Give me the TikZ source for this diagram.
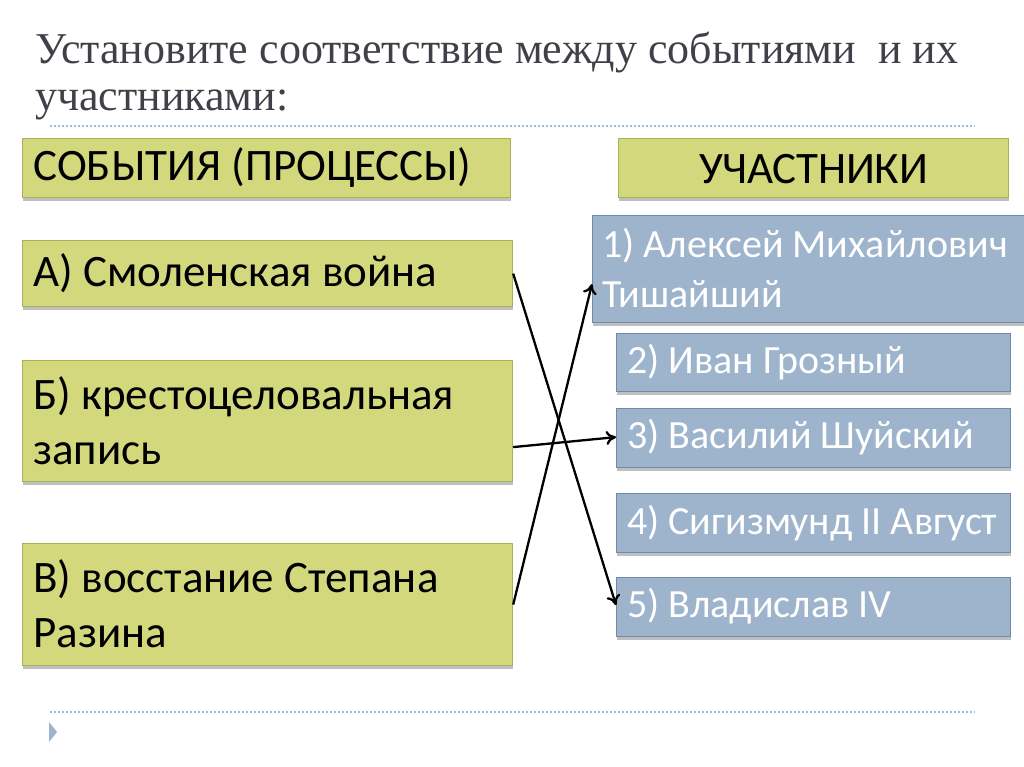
\documentclass[tikz,border=0pt]{standalone}
\usepackage{fontspec}
\setmainfont{Carlito}
\newfontfamily\titlefont{Liberation Serif}
\usetikzlibrary{shadows,arrows.meta}
\definecolor{olivefill}{RGB}{211,216,124}
\definecolor{olivedraw}{RGB}{170,176,88}
\definecolor{bluefill}{RGB}{157,180,204}
\definecolor{bluedraw}{RGB}{112,138,168}
\definecolor{titlegray}{RGB}{64,64,72}
\definecolor{dotblue}{RGB}{160,190,210}
\tikzset{
  olivebox/.style={draw=olivedraw, fill=olivefill, line width=1.2pt, anchor=north west, inner sep=0pt,
    drop shadow={shadow xshift=0pt, shadow yshift=-3pt, opacity=0.25, fill=black}},
  bluebox/.style={draw=bluedraw, fill=bluefill, line width=1.2pt, anchor=north west, inner sep=0pt,
    drop shadow={shadow xshift=0pt, shadow yshift=-3pt, opacity=0.25, fill=black}},
  boxtext/.style={anchor=west, inner sep=0pt, align=left, font=\fontsize{45}{55}\selectfont},
  whitetext/.style={anchor=west, inner sep=0pt, align=left, text=white, font=\fontsize{40}{50}\selectfont},
  titletext/.style={anchor=base west, inner sep=0pt, text=titlegray, font=\titlefont\fontsize{44}{48}\selectfont},
  conn/.style={line width=2.3pt, -{To[length=10pt, width=14pt, line width=2.3pt]}},
  dotline/.style={dotblue, line width=1.2pt, dash pattern=on 2pt off 2pt},
}
\begin{document}
\begin{tikzpicture}[x=1pt, y=-1pt]
\useasboundingbox (0,0) rectangle (1024,767);
\fill[white] (0,0) rectangle (1024,767);
% title
\node[titletext] (title1) at (35,64) {Установите соответствие между событиями~ и их};
\node[titletext] (title2) at (35,111) {участниками:};
\draw[dotline] (50,126) -- (975,126);
\draw[dotline] (50,712) -- (975,712);
% headers
\node[olivebox, minimum width=488, minimum height=59] (hl) at (22,138) {};
\node[boxtext] (hlt) at (33,168) {СОБЫТИЯ (ПРОЦЕССЫ)};
\node[olivebox, minimum width=390, minimum height=59] (hr) at (618,138) {};
\node[boxtext, anchor=center] (hrt) at ([yshift=-1pt]hr.center) {УЧАСТНИКИ};
% left boxes
\node[olivebox, minimum width=490, minimum height=66] (a) at (22,240) {};
\node[boxtext] (at) at (33,273) {А) Смоленская война};
\node[olivebox, minimum width=490, minimum height=121] (b) at (22,360) {};
\node[boxtext] (bt) at (33,421) {Б) крестоцеловальная\\запись};
\node[olivebox, minimum width=490, minimum height=122] (c) at (22,543) {};
\node[boxtext] (ct) at (33,604) {В) восстание Степана\\Разина};
% right boxes
\node[bluebox, minimum width=440, minimum height=107] (r1) at (592,215) {};
\node[whitetext] (r1t) at (602,268) {1) Алексей Михайлович\\Тишайший};
\node[bluebox, minimum width=394, minimum height=58] (r2) at (616,333) {};
\node[whitetext] (r2t) at (627,362) {2) Иван Грозный};
\node[bluebox, minimum width=394, minimum height=59] (r3) at (616,408) {};
\node[whitetext] (r3t) at (627,437) {3) Василий Шуйский};
\node[bluebox, minimum width=394, minimum height=59] (r4) at (616,493) {};
\node[whitetext] (r4t) at (627,523) {4) Сигизмунд II Август};
\node[bluebox, minimum width=394, minimum height=59] (r5) at (616,577) {};
\node[whitetext] (r5t) at (627,606) {5) Владислав IV};
% bullet triangle
\fill[bluefill] (49,722) -- (57,732) -- (49,742) -- cycle;
% connectors
\coordinate (bS) at ([yshift=-26pt]b.east);
\coordinate (r1E) at ([yshift=-15pt]r1.west);
\coordinate (r3E) at ([yshift=1pt]r3.west);
\coordinate (r5E) at ([yshift=2pt]r5.west);
\draw[conn] (a.east) -- (r5E);
\draw[conn] (c.east) -- (r1E);
\draw[conn] (bS) -- (r3E);
\end{tikzpicture}
\end{document}
